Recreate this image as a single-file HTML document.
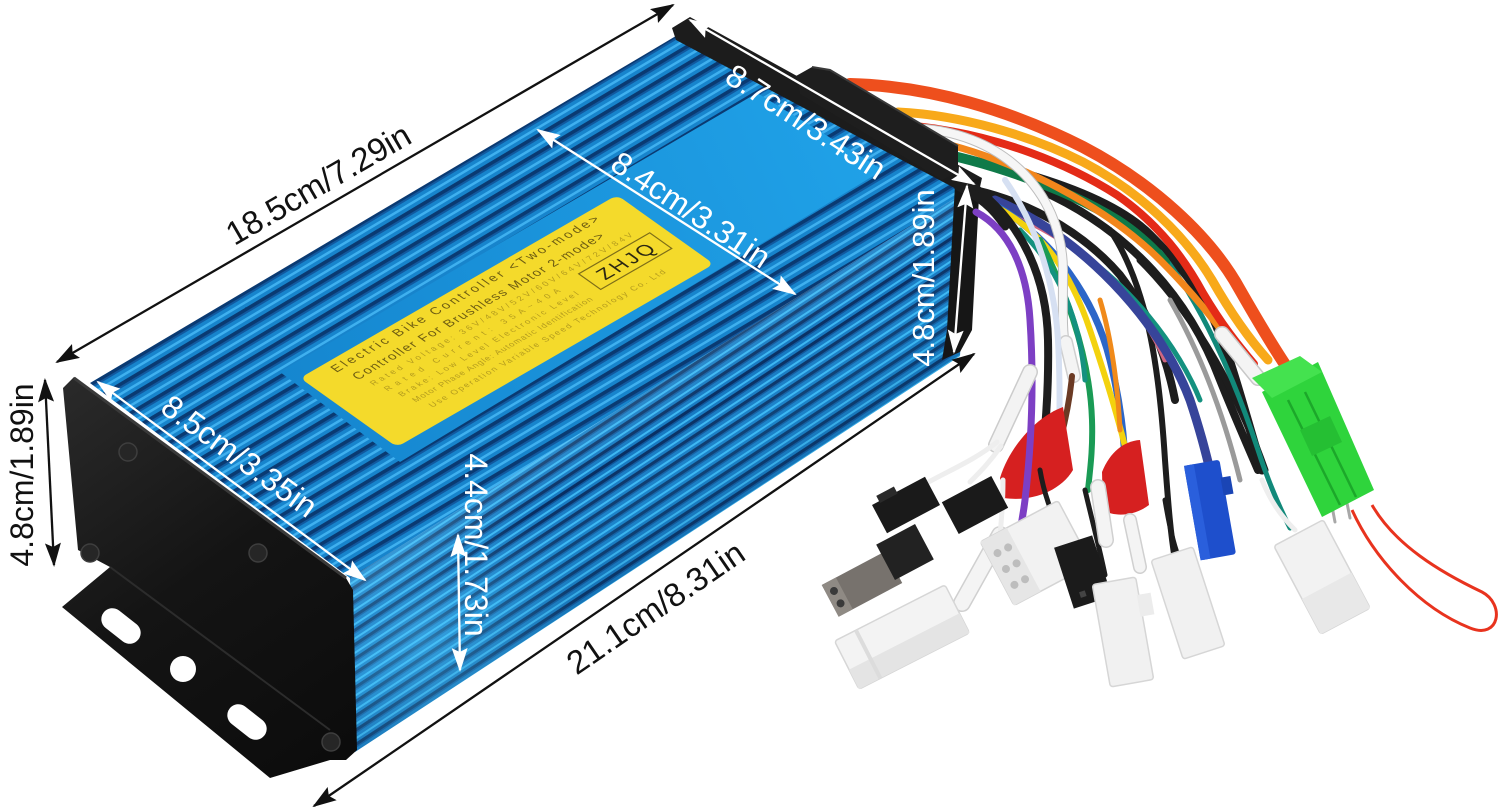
<!DOCTYPE html>
<html><head><meta charset="utf-8">
<style>
html,body{margin:0;padding:0;background:#fff;}
svg{display:block;}
text{font-family:"Liberation Sans",Arial,sans-serif;}
</style></head><body>
<svg width="1500" height="812" viewBox="0 0 1500 812" xmlns="http://www.w3.org/2000/svg">
<defs>
 <pattern id="finTop" patternUnits="userSpaceOnUse" width="200" height="15" patternTransform="rotate(-30.8)">
   <rect width="200" height="15" fill="#1784cc"/>
   <rect y="0" width="200" height="3.5" fill="#0a3a72"/>
   <rect y="3.5" width="200" height="2" fill="#11599f"/>
   <rect y="9" width="200" height="2.5" fill="#3fb0ef"/>
 </pattern>
 <pattern id="finSide" patternUnits="userSpaceOnUse" width="200" height="12" patternTransform="rotate(-33.3)">
   <rect width="200" height="12" fill="#1679c2"/>
   <rect y="0" width="200" height="3" fill="#082e62"/>
   <rect y="3" width="200" height="1.5" fill="#0f5499"/>
   <rect y="7.5" width="200" height="2" fill="#3cb6f2"/>
 </pattern>
 <linearGradient id="sideShade" gradientUnits="userSpaceOnUse" x1="650" y1="389" x2="740" y2="530">
   <stop offset="0" stop-color="#8fe0ff" stop-opacity="0.2"/>
   <stop offset="0.25" stop-color="#8fe0ff" stop-opacity="0"/>
   <stop offset="0.55" stop-color="#40c8ff" stop-opacity="0.15"/>
   <stop offset="1" stop-color="#002040" stop-opacity="0.15"/>
 </linearGradient>
 <radialGradient id="glow" gradientUnits="userSpaceOnUse" cx="420" cy="640" r="170">
   <stop offset="0" stop-color="#5fd0ff" stop-opacity="0.35"/>
   <stop offset="1" stop-color="#5fd0ff" stop-opacity="0"/>
 </radialGradient>
 <linearGradient id="band" gradientUnits="userSpaceOnUse" x1="280" y1="400" x2="880" y2="130">
   <stop offset="0" stop-color="#1586cf"/>
   <stop offset="1" stop-color="#20a2e8"/>
 </linearGradient>
 <linearGradient id="plateG" gradientUnits="userSpaceOnUse" x1="70" y1="380" x2="340" y2="760">
   <stop offset="0" stop-color="#2a2a2a"/>
   <stop offset="0.5" stop-color="#141414"/>
   <stop offset="1" stop-color="#0c0c0c"/>
 </linearGradient>
 <marker id="ab" viewBox="0 0 24 16" refX="22" refY="8" markerWidth="24" markerHeight="16" markerUnits="userSpaceOnUse" orient="auto-start-reverse">
   <path d="M0,0 L24,8 L0,16 L4,8 Z" fill="#111"/>
 </marker>
 <marker id="aw" viewBox="0 0 24 16" refX="22" refY="8" markerWidth="24" markerHeight="16" markerUnits="userSpaceOnUse" orient="auto-start-reverse">
   <path d="M0,0 L24,8 L0,16 L4,8 Z" fill="#fff"/>
 </marker>
</defs>

<rect width="1500" height="812" fill="#fff"/>

<!-- ===== BOX ===== -->
<path d="M90,383 L686,30 L968,190 L350,578 Z" fill="url(#finTop)"/>
<path d="M280,372 L757,93 L883,170 L400,462 Z" fill="url(#band)"/>
<path d="M350,578 L968,190 L960,356 L355,752 Z" fill="url(#finSide)"/>
<path d="M350,578 L968,190 L960,356 L355,752 Z" fill="url(#sideShade)"/>
<path d="M350,578 L968,190 L960,356 L355,752 Z" fill="url(#glow)"/>

<!-- label -->
<g transform="matrix(0.866,-0.5,0.815,0.58,300,378)">
  <rect x="0" y="0" width="366" height="119" rx="7" fill="#f4da2b"/>
  <text x="28" y="15" font-size="13" fill="#6e5d12" textLength="305" lengthAdjust="spacing">Electric Bike Controller &lt;Two-mode&gt;</text>
  <text x="35" y="34" font-size="13" fill="#6e5d12" textLength="286" lengthAdjust="spacing">Controller For Brushless Motor   2-mode&gt;</text>
  <g font-size="8.5" fill="#a8901c" opacity="0.85">
    <text x="40" y="48" textLength="300" lengthAdjust="spacing">Rated Voltage: 36V/48V/52V/60V/64V/72V/84V</text>
    <text x="44" y="61" textLength="200" lengthAdjust="spacing">Rated Current: 35A~40A</text>
    <text x="48" y="74" textLength="205" lengthAdjust="spacing">Brake: Low Level Electronic Level</text>
    <text x="52" y="87" textLength="205" lengthAdjust="spacing">Motor Phase Angle: Automatic Identification</text>
    <text x="58" y="101" textLength="270" lengthAdjust="spacing">Use Operation Variable Speed Technology Co. Ltd</text>
  </g>
  <rect x="271" y="54" width="82" height="27" fill="none" stroke="#7d6d18" stroke-width="1.3"/>
  <text x="312" y="75" font-size="20" text-anchor="middle" fill="#2b2712" textLength="60" lengthAdjust="spacing">ZHJQ</text>
</g>

<!-- back end plate strip + right plate -->
<path d="M672,28 L690,17 L982,178 L978,196 L962,192 L676,40 Z" fill="#1c1c1c"/>
<path d="M955,185 L980,178 L972,330 L960,352 L942,360 L947,330 Z" fill="#161616"/>

<!-- left end plate + bracket -->
<path d="M63,388 L74,377 L346,578 L353,590 L357,750 L346,760 L330,760 L270,778 L62,607 L110,567 L78,550 Z" fill="url(#plateG)"/>
<path d="M74,378 L346,578" stroke="#3a3a3a" stroke-width="3"/>
<path d="M110,567 L330,730" stroke="#2c2c2c" stroke-width="2"/>
<g fill="#fff">
  <rect x="-22" y="-11" width="44" height="22" rx="11" transform="translate(121,626) rotate(38)"/>
  <circle cx="183" cy="669" r="13"/>
  <rect x="-22" y="-11" width="44" height="22" rx="11" transform="translate(247,722) rotate(38)"/>
</g>
<g fill="#262626" stroke="#3e3e3e" stroke-width="1.5">
  <circle cx="128" cy="452" r="9"/>
  <circle cx="90" cy="553" r="9"/>
  <circle cx="258" cy="553" r="9"/>
  <circle cx="331" cy="742" r="9"/>
</g>

<!-- ===== WIRES ===== -->
<g fill="none" stroke-linecap="round">
  <!-- back-right wires -->
  <path d="M1040,190 C1130,230 1190,300 1220,380 C1232,410 1245,440 1258,470" stroke="#1d1d1d" stroke-width="8"/>
  <path d="M1140,260 C1200,320 1240,400 1265,470" stroke="#1d1d1d" stroke-width="7"/>
  <path d="M1170,300 C1210,370 1230,440 1240,480" stroke="#9a9a9a" stroke-width="5"/>
  <path d="M1110,230 C1150,290 1160,380 1165,460 C1168,500 1170,530 1175,560" stroke="#1d1d1d" stroke-width="6"/>
  <path d="M975,190 C1040,205 1090,240 1120,275 C1150,315 1165,350 1175,400" stroke="#1d1d1d" stroke-width="8"/>
  <path d="M1060,240 C1130,280 1180,350 1200,400" stroke="#14917f" stroke-width="5"/>
  <path d="M1005,212 C1080,240 1140,300 1165,360" stroke="#cf6680" stroke-width="5"/>
  <path d="M995,200 C1080,235 1160,320 1190,400 C1200,430 1205,450 1210,470" stroke="#37449a" stroke-width="9"/>
  <path d="M995,205 C1055,240 1095,300 1110,360 C1120,400 1125,440 1125,470" stroke="#2c66c8" stroke-width="7"/>
  <path d="M982,200 C1040,225 1070,270 1090,330 C1110,390 1125,440 1135,490" stroke="#f3d20e" stroke-width="6"/>
  <path d="M1040,240 C1070,300 1090,360 1092,420 C1093,450 1090,470 1088,490" stroke="#1a9b55" stroke-width="6"/>
  <path d="M1020,230 C1060,270 1080,320 1085,380" stroke="#14917f" stroke-width="5"/>
  <path d="M1100,300 C1112,340 1118,390 1120,430" stroke="#f08a1a" stroke-width="5"/>
  <path d="M970,160 C1060,180 1120,205 1150,235 C1180,265 1200,290 1212,315 C1228,350 1240,395 1262,470" stroke="#1d1d1d" stroke-width="9"/>
  <path d="M1160,252 C1200,300 1235,380 1258,450 C1266,475 1278,505 1290,528" stroke="#12897a" stroke-width="5"/>
  <path d="M925,150 C980,160 1060,185 1117,220 C1140,235 1155,250 1165,262" stroke="#0f7a49" stroke-width="10"/>
  <!-- big arc wires -->
  <path d="M930,140 C1020,160 1110,210 1160,260 C1190,290 1210,315 1224,334" stroke="#f2861b" stroke-width="7"/>
  <path d="M915,126 C1000,135 1070,165 1117,195 C1160,225 1185,260 1203,293 C1222,325 1238,345 1254,364" stroke="#e42b17" stroke-width="8"/>
  <path d="M898,112 C960,115 1030,135 1083,162 C1140,192 1185,235 1212,280 C1232,315 1250,340 1268,360" stroke="#f8a91a" stroke-width="9"/>
  <path d="M850,84 C930,86 1010,110 1083,147 C1150,182 1210,235 1240,290 C1260,325 1275,350 1290,372" stroke="#ee4f1d" stroke-width="12"/>
  <path d="M1222,334 L1258,378" stroke="#c8c8c8" stroke-width="16"/>
  <path d="M1222,334 L1258,378" stroke="#f4f4f4" stroke-width="13"/>
  <!-- middle white / black -->
  <path d="M910,128 C1000,130 1062,190 1063,270 C1063,310 1062,330 1065,345" stroke="#bdbdbd" stroke-width="10"/>
  <path d="M910,128 C1000,130 1062,190 1063,270 C1063,310 1062,330 1065,345" stroke="#f6f6f6" stroke-width="8"/>
  <path d="M1066,342 L1074,376" stroke="#cfcfcf" stroke-width="14"/>
  <path d="M1066,342 L1074,376" stroke="#f4f4f4" stroke-width="11"/>
  <path d="M1072,376 C1068,420 1055,460 1045,490" stroke="#6b3a24" stroke-width="6"/>
  <path d="M1005,180 C1040,230 1055,290 1058,340 C1060,380 1060,420 1058,450" stroke="#d6e0f2" stroke-width="6"/>
  <path d="M958,176 C1030,220 1047,290 1048,340 C1049,390 1045,440 1040,470" stroke="#1d1d1d" stroke-width="8"/>
  <path d="M958,186 C980,196 995,210 1005,226" stroke="#1d1d1d" stroke-width="9"/>
</g>

<!-- red boots -->
<path d="M1000,478 C1010,445 1038,416 1063,407 L1073,470 C1060,492 1030,502 1004,498 Z" fill="#d62020"/>
<path d="M1102,472 C1110,452 1124,441 1140,440 L1149,505 C1136,515 1116,518 1103,510 Z" fill="#d62020"/>

<g fill="none" stroke-linecap="round">
  <path d="M976,212 C1010,230 1027,270 1030,320 C1034,380 1032,440 1025,500 C1020,540 1012,560 1005,580" stroke="#7d3fc4" stroke-width="7"/>
  <path d="M1030,372 L996,445" stroke="#cccccc" stroke-width="16"/>
  <path d="M1030,372 L996,445" stroke="#f3f3f3" stroke-width="13"/>
  <path d="M997,442 C975,460 950,470 925,484" stroke="#eeeeee" stroke-width="5"/>
  <path d="M1001,446 C990,462 980,472 970,482" stroke="#eeeeee" stroke-width="5"/>
  <path d="M1000,535 L962,603" stroke="#d0d0d0" stroke-width="18"/>
  <path d="M1000,535 L962,603" stroke="#f4f4f4" stroke-width="15"/>
  <path d="M1003,480 C1003,500 1002,515 1000,535" stroke="#eeeeee" stroke-width="5"/>
  <path d="M1040,470 C1045,500 1055,520 1065,545" stroke="#1d1d1d" stroke-width="5"/>
  <path d="M1085,490 C1092,520 1100,550 1105,575" stroke="#1d1d1d" stroke-width="5"/>
  <path d="M1165,500 C1170,530 1175,550 1180,560" stroke="#1d1d1d" stroke-width="5"/>
  <path d="M1098,487 L1106,540" stroke="#d0d0d0" stroke-width="16"/>
  <path d="M1098,487 L1106,540" stroke="#f4f4f4" stroke-width="13"/>
  <path d="M1130,520 L1140,567" stroke="#d0d0d0" stroke-width="14"/>
  <path d="M1130,520 L1140,567" stroke="#f4f4f4" stroke-width="11"/>
  <path d="M1262,480 C1270,500 1280,515 1295,530" stroke="#eeeeee" stroke-width="5"/>
  <path d="M1327,480 L1335,522 M1342,478 L1350,518" stroke="#a8a8a8" stroke-width="3"/>
</g>

<!-- ===== CONNECTORS ===== -->
<g transform="translate(862,584) rotate(-28)">
  <rect x="-36" y="-18" width="72" height="36" fill="#77726d"/>
  <rect x="-36" y="-18" width="16" height="36" fill="#8f8a84"/>
  <circle cx="-28" cy="-7" r="4" fill="#3a3a3a"/>
  <circle cx="-28" cy="7" r="4" fill="#3a3a3a"/>
</g>
<g transform="translate(905,552) rotate(-28)"><rect x="-22" y="-20" width="44" height="40" fill="#222"/></g>
<g transform="translate(906,505) rotate(-28)"><rect x="-30" y="-16" width="60" height="32" fill="#1a1a1a"/><rect x="-22" y="-22" width="20" height="8" fill="#2a2a2a"/></g>
<g transform="translate(975,505) rotate(-28)"><rect x="-28" y="-18" width="56" height="36" fill="#1a1a1a"/></g>
<g transform="translate(902,637) rotate(-27)">
  <rect x="-62" y="-27" width="124" height="54" rx="3" fill="#f3f3f3" stroke="#d6d6d6" stroke-width="1.5"/>
  <rect x="-62" y="5" width="124" height="22" fill="#e4e4e4"/>
  <rect x="-40" y="-27" width="4" height="54" fill="#dcdcdc"/>
</g>
<g transform="translate(1036,553) rotate(-28)">
  <rect x="-44" y="-36" width="88" height="72" rx="3" fill="#f2f2f2" stroke="#d4d4d4" stroke-width="1.5"/>
  <rect x="-44" y="-36" width="30" height="72" fill="#e6e6e6"/>
  <g fill="#bdbdbd">
    <circle cx="-34" cy="-18" r="4"/><circle cx="-34" cy="0" r="4"/><circle cx="-34" cy="18" r="4"/>
    <circle cx="-22" cy="-18" r="4"/><circle cx="-22" cy="0" r="4"/><circle cx="-22" cy="18" r="4"/>
  </g>
</g>
<g transform="translate(1083,572) rotate(-18)"><rect x="-20" y="-32" width="40" height="64" fill="#1b1b1b"/><rect x="-10" y="18" width="6" height="6" fill="#444"/><rect x="4" y="18" width="6" height="6" fill="#444"/></g>
<g transform="translate(1123,632) rotate(-10)">
  <rect x="-22" y="-52" width="44" height="104" rx="3" fill="#f1f1f1" stroke="#d6d6d6" stroke-width="1.5"/>
  <rect x="20" y="-34" width="14" height="22" fill="#ececec"/>
</g>
<g transform="translate(1188,603) rotate(-18)">
  <rect x="-22" y="-52" width="44" height="104" rx="3" fill="#f1f1f1" stroke="#d6d6d6" stroke-width="1.5"/>
</g>
<g transform="translate(1210,510) rotate(-10)">
  <rect x="-18" y="-48" width="36" height="96" rx="3" fill="#1e4fcc"/>
  <rect x="16" y="-30" width="10" height="18" fill="#1a45b5"/>
  <rect x="-18" y="-48" width="10" height="96" fill="#2a5fdc"/>
</g>
<g transform="translate(1322,577) rotate(-28)">
  <rect x="-28" y="-50" width="56" height="100" rx="3" fill="#f2f2f2" stroke="#d6d6d6" stroke-width="1.5"/>
  <rect x="-28" y="10" width="56" height="40" fill="#e8e8e8"/>
</g>
<path d="M1262,392 L1318,362 L1374,490 L1322,517 Z" fill="#2fd43c"/>
<path d="M1252,378 L1300,356 L1322,372 L1272,398 Z" fill="#44e24f"/>
<path d="M1288,400 L1340,505 M1305,392 L1356,497" stroke="#1ca82a" stroke-width="2.5"/>
<path d="M1300,430 L1330,416 L1342,442 L1312,456 Z" fill="#25bf33"/>
<path d="M1352,510 C1375,560 1420,608 1470,628 C1500,640 1505,604 1482,592 C1440,572 1395,545 1372,505" fill="none" stroke="#e8331e" stroke-width="3"/>

<!-- grommet -->
<path d="M796,76 L812,67 L830,70 L958,146 L958,172 L942,180 L800,94 Z" fill="#1e1e1e"/>
<path d="M812,67 L830,70 L958,146" stroke="#3a3a3a" stroke-width="2" fill="none"/>

<!-- ===== DIMENSION ARROWS ===== -->
<g stroke-width="2.3">
  <line x1="57" y1="362" x2="673" y2="5" stroke="#111" marker-start="url(#ab)" marker-end="url(#ab)"/>
  <line x1="45" y1="380" x2="54" y2="565" stroke="#111" marker-start="url(#ab)" marker-end="url(#ab)"/>
  <line x1="314" y1="806" x2="974" y2="354" stroke="#111" marker-start="url(#ab)" marker-end="url(#ab)"/>
  <line x1="690" y1="20" x2="974" y2="184" stroke="#fff" marker-start="url(#aw)" marker-end="url(#aw)"/>
  <line x1="538" y1="130" x2="795" y2="294" stroke="#fff" marker-start="url(#aw)" marker-end="url(#aw)"/>
  <line x1="98" y1="382" x2="365" y2="580" stroke="#fff" marker-start="url(#aw)" marker-end="url(#aw)"/>
  <line x1="967" y1="186" x2="954" y2="352" stroke="#fff" marker-start="url(#aw)" marker-end="url(#aw)"/>
  <line x1="458" y1="535" x2="460" y2="670" stroke="#fff" marker-start="url(#aw)" marker-end="url(#aw)"/>
</g>

<!-- ===== DIMENSION TEXT ===== -->
<text transform="translate(324,194) rotate(-30.2)" text-anchor="middle" font-size="33" fill="#111">18.5cm/7.29in</text>
<text transform="translate(33,475) rotate(-90)" text-anchor="middle" font-size="32" fill="#111">4.8cm/1.89in</text>
<text transform="translate(662,617) rotate(-34.5)" text-anchor="middle" font-size="33" fill="#111">21.1cm/8.31in</text>
<text transform="translate(800,131) rotate(33)" text-anchor="middle" font-size="32" fill="#fff">8.7cm/3.43in</text>
<text transform="translate(685,219) rotate(33.5)" text-anchor="middle" font-size="32" fill="#fff">8.4cm/3.31in</text>
<text transform="translate(233,465) rotate(36)" text-anchor="middle" font-size="32" fill="#fff">8.5cm/3.35in</text>
<text transform="translate(934,278) rotate(-90)" text-anchor="middle" font-size="31" fill="#fff">4.8cm/1.89in</text>
<text transform="translate(465,545) rotate(90)" text-anchor="middle" font-size="32" fill="#fff">4.4cm/1.73in</text>
</svg>
</body></html>
